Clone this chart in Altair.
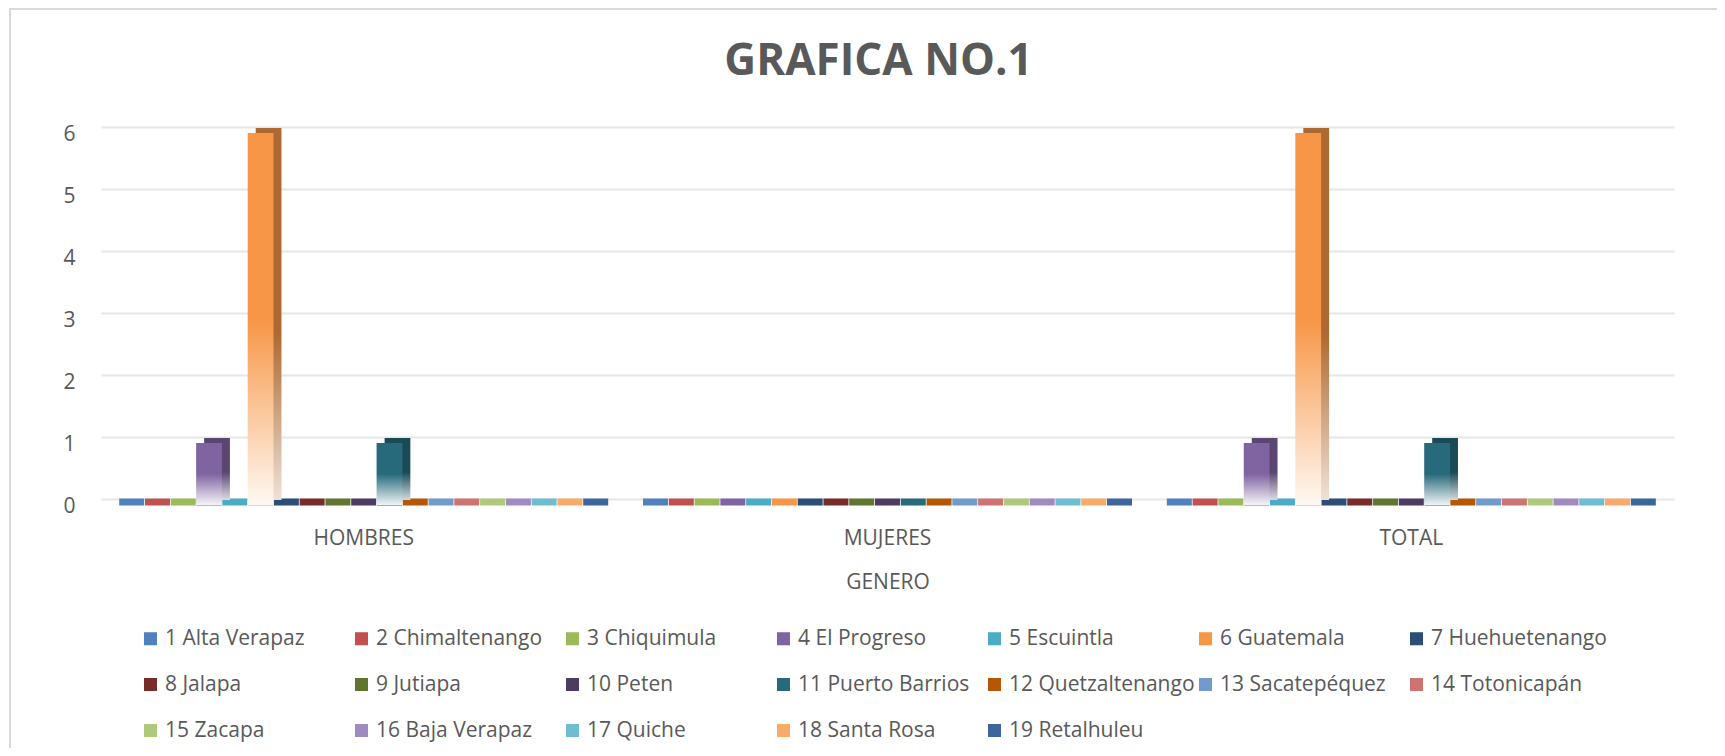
import altair as alt
import pandas as pd

TITLE = "GRAFICA NO.1"
GENERO = ["HOMBRES", "MUJERES", "TOTAL"]
DEPARTAMENTOS = [
    "1 Alta Verapaz", "2 Chimaltenango", "3 Chiquimula", "4 El Progreso",
    "5 Escuintla", "6 Guatemala", "7 Huehuetenango", "8 Jalapa", "9 Jutiapa",
    "10 Peten", "11 Puerto Barrios", "12 Quetzaltenango", "13 Sacatepéquez",
    "14 Totonicapán", "15 Zacapa", "16 Baja Verapaz", "17 Quiche",
    "18 Santa Rosa", "19 Retalhuleu",
]
HOMBRES = [0, 0, 0, 1, 0, 6, 0, 0, 0, 0, 1, 0, 0, 0, 0, 0, 0, 0, 0]
MUJERES = [0, 0, 0, 0, 0, 0, 0, 0, 0, 0, 0, 0, 0, 0, 0, 0, 0, 0, 0]
TOTAL = [0, 0, 0, 1, 0, 6, 0, 0, 0, 0, 1, 0, 0, 0, 0, 0, 0, 0, 0]
Y_TICKS = [0, 1, 2, 3, 4, 5, 6]

COLORS = [
    "#4F81BD", "#C0504D", "#9BBB59", "#8064A2", "#4BACC6", "#F79646",
    "#2C4D75", "#772C2A", "#5F7530", "#4D3B62", "#276A7C", "#B65708",
    "#729ACA", "#CD7371", "#AFC97A", "#9F8BC0", "#6FBDD1", "#F9AB6B",
    "#3C669C",
]

rows = []
for g, vals in zip(GENERO, [HOMBRES, MUJERES, TOTAL]):
    for d, v in zip(DEPARTAMENTOS, vals):
        rows.append({"Genero": g, "Departamento": d, "Valor": v, "Base": 0})
df = pd.DataFrame(rows)

TEXT = "#595959"
FONT = "Open Sans"
W, H = 1573, 372
PAD_IN, PAD_OUT = 0.065, 0.034
BANDWIDTH = W / (len(GENERO) - PAD_IN + 2 * PAD_OUT) * (1 - PAD_IN)
DEPTH_X, DEPTH_Y = 8, 5


def mix(c, t, k):
    c = c.lstrip("#")
    t = t.lstrip("#")
    a = [int(c[i:i + 2], 16) for i in (0, 2, 4)]
    b = [int(t[i:i + 2], 16) for i in (0, 2, 4)]
    r = [round(x + (y - x) * k) for x, y in zip(a, b)]
    return "#%02X%02X%02X" % tuple(r)


def grad(top, mid, bottom, m=0.5):
    return alt.Gradient(
        gradient="linear",
        stops=[
            alt.GradientStop(offset=0, color=top),
            alt.GradientStop(offset=m, color=mid),
            alt.GradientStop(offset=1, color=bottom),
        ],
        x1=0, x2=0, y1=0, y2=1,
    )


x_enc = alt.X(
    "Genero:N", sort=GENERO,
    scale=alt.Scale(domain=GENERO, paddingInner=PAD_IN, paddingOuter=PAD_OUT),
    axis=alt.Axis(
        title="GENERO", labelAngle=0, ticks=False, domain=False,
        labelPadding=28, titlePadding=23, labelFontSize=21, titleFontSize=21,
        titleFontWeight="normal", labelColor=TEXT, titleColor=TEXT,
        labelFont=FONT, titleFont=FONT,
    ),
)


def xo(shift=0):
    sc = alt.Scale(domain=DEPARTAMENTOS, paddingInner=0, paddingOuter=0)
    if shift:
        sc = alt.Scale(domain=DEPARTAMENTOS, paddingInner=0, paddingOuter=0,
                       range=[shift, BANDWIDTH + shift])
    return alt.XOffset("Departamento:N", sort=DEPARTAMENTOS, scale=sc)


y_axis = alt.Axis(
    title=None, values=Y_TICKS, ticks=False, domain=False, labelPadding=26,
    labelOffset=7, labelFontSize=21, labelColor=TEXT, labelFont=FONT,
    gridColor="#E6E6E6", gridWidth=2,
)
y_scale = alt.Scale(domain=[0, 6], nice=False)

one = pd.DataFrame({"f": [0]})
frame = alt.Chart(one).mark_rect(
    fill=None, stroke="#D9D9D9", strokeWidth=2
).encode(
    x=alt.value(-91), x2=alt.value(W + 200),
    y=alt.value(-118), y2=alt.value(H + 400),
)
title = alt.Chart(one).mark_text(
    text=TITLE, font=FONT, fontSize=44, fontWeight="bold", color=TEXT,
    align="center", baseline="alphabetic",
).encode(x=alt.value(W / 2 - 9), y=alt.value(-52))

base = alt.Chart(df).mark_tick(thickness=7, size=25, yOffset=3, opacity=1).encode(
    x=x_enc,
    xOffset=xo(),
    y=alt.Y("Base:Q", scale=y_scale, axis=y_axis),
    color=alt.Color(
        "Departamento:N", sort=DEPARTAMENTOS,
        scale=alt.Scale(domain=DEPARTAMENTOS, range=COLORS),
        legend=alt.Legend(
            title=None, orient="none", legendX=39, legendY=501, columns=7,
            direction="horizontal",
            symbolType="square", symbolSize=170, symbolStrokeWidth=0,
            labelFontSize=21, labelFont=FONT, labelColor=TEXT, labelLimit=0,
            labelOffset=4, columnPadding=-4, rowPadding=24, padding=0,
            gridAlign="all",
        ),
    ),
)

layers = [frame, title, base]
for d, c in zip(DEPARTAMENTOS, COLORS):
    dark = mix(c, "#000000", 0.3)
    sub = alt.Chart(df).transform_filter(alt.datum.Departamento == d)
    y_enc = alt.Y("Valor:Q", scale=y_scale, axis=y_axis)
    back = sub.mark_bar(
        color=grad(dark, dark, mix(dark, "#FFFFFF", 0.8), 0.55),
        yOffset=6 - DEPTH_Y, opacity=1,
    ).encode(x=x_enc, xOffset=xo(DEPTH_X), y=y_enc)
    front = sub.mark_bar(
        color=grad(c, c, mix(c, "#FFFFFF", 0.93), 0.5),
        yOffset=6, opacity=1,
    ).encode(x=x_enc, xOffset=xo(), y=y_enc)
    layers += [back, front]

chart = alt.layer(*layers).resolve_scale(xOffset="independent").properties(
    width=W,
    height=H,
    autosize=alt.AutoSizeParams(type="none"),
    padding={"left": 93, "top": 119, "right": 43, "bottom": 249},
).configure(background="white").configure_view(stroke=None)

chart.save("out.html", embed_options={"renderer": "svg", "actions": False})
